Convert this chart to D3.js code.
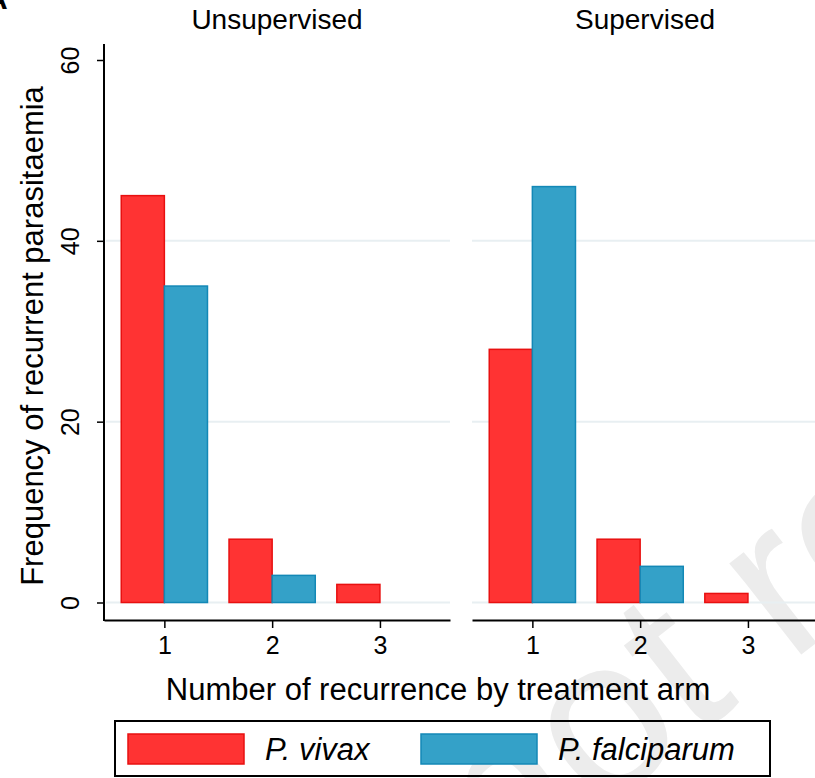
<!DOCTYPE html>
<html>
<head>
<meta charset="utf-8">
<script src="https://cdn.jsdelivr.net/npm/d3@7"></script>
<style>
    body { margin: 0; background: #fff; }
    text { font-family: "Liberation Sans", Arial, sans-serif; fill: #000; }
</style>
</head>
<body>
<div id="chart"></div>
<script>
// data
var categories = [1, 2, 3];
var seriesNames = ['P. vivax', 'P. falciparum'];
var panelNames = ['Unsupervised', 'Supervised'];
var unsupervisedVivax = [45, 7, 2];
var unsupervisedFalciparum = [35, 3, 0];
var supervisedVivax = [28, 7, 1];
var supervisedFalciparum = [46, 4, 0];
var yTicks = [0, 20, 40, 60];
var gridTicks = [0, 20, 40];

var svgWidth = 815;
var svgHeight = 778;

var colors = {
    'P. vivax': { fill: '#ff3333', stroke: '#e81010' },
    'P. falciparum': { fill: '#34a1c8', stroke: '#1388b6' }
};

var svg = d3.select('#chart')
    .append('svg')
    .attr('width', svgWidth)
    .attr('height', svgHeight);

// panel geometry
var panelWidth = 346;
var panelLefts = [104, 472];
var plotTop = 44;
var axisY = 620;

var yScale = d3.scaleLinear()
    .domain([0, 60])
    .range([602.5, 60]);

// faint preprint watermark behind everything
svg.append('text')
    .attr('transform', 'translate(500, 890) rotate(-38)')
    .style('font-size', '220px')
    .style('fill', '#ececec')
    .text('not review');

var panelData = [
    { name: panelNames[0], values: [unsupervisedVivax, unsupervisedFalciparum] },
    { name: panelNames[1], values: [supervisedVivax, supervisedFalciparum] }
];

panelData.forEach(function(p, i) {
    var left = panelLefts[i];
    var xScale = d3.scaleLinear()
        .domain([0.44, 3.65])
        .range([left, left + panelWidth]);

    var g = svg.append('g');

    // gridlines
    g.selectAll('.grid')
        .data(gridTicks)
        .enter()
        .append('line')
        .attr('x1', left + (i === 0 ? 2 : 0))
        .attr('x2', left + panelWidth)
        .attr('y1', d => yScale(d))
        .attr('y2', d => yScale(d))
        .attr('stroke', '#e8eff2')
        .attr('stroke-width', 2);

    // bars: each series offset by 0.4 units around the category
    var barWidth = 0.4;
    var bars = [];
    seriesNames.forEach(function(s, si) {
        categories.forEach(function(c, ci) {
            var v = p.values[si][ci];
            if (v > 0) bars.push({ series: s, cat: c, value: v, offset: si === 0 ? -barWidth : 0 });
        });
    });

    g.selectAll('.bar')
        .data(bars)
        .enter()
        .append('rect')
        .attr('x', d => xScale(d.cat + d.offset))
        .attr('width', d => xScale(d.cat + d.offset + barWidth) - xScale(d.cat + d.offset))
        .attr('y', d => yScale(d.value))
        .attr('height', d => yScale(0) - yScale(d.value))
        .attr('fill', d => colors[d.series].fill)
        .attr('stroke', d => colors[d.series].stroke)
        .attr('stroke-width', 1.5);

    // x axis
    var xAxis = g.append('g')
        .attr('transform', `translate(0, ${axisY})`)
        .call(d3.axisBottom(xScale)
            .tickValues(categories)
            .tickFormat(d3.format('d'))
            .tickSize(8).tickSizeOuter(0).tickPadding(8));
    xAxis.select('.domain').attr('stroke', '#000').attr('stroke-width', 2);
    xAxis.selectAll('.tick line').attr('stroke', '#000').attr('stroke-width', 1.5);
    xAxis.selectAll('.tick text')
        .style('font-size', '25px')
        .style('font-family', '"Liberation Sans", Arial, sans-serif')
        .attr('fill', '#000');

    // panel title
    svg.append('text')
        .attr('x', left + panelWidth / 2)
        .attr('y', 29)
        .attr('text-anchor', 'middle')
        .style('font-size', '28px')
        .text(p.name);

    // y axis only on left panel
    if (i === 0) {
        var yAxis = g.append('g')
            .attr('transform', `translate(${left}, 0)`)
            .call(d3.axisLeft(yScale).tickValues(yTicks).tickSize(7).tickSizeOuter(0));
        yAxis.select('.domain').remove();
        g.append('line')
            .attr('x1', left).attr('x2', left)
            .attr('y1', plotTop).attr('y2', axisY + 1)
            .attr('stroke', '#000').attr('stroke-width', 2);
        yAxis.selectAll('.tick line').attr('stroke', '#000').attr('stroke-width', 1.5);
        yAxis.selectAll('.tick text')
            .attr('x', 0).attr('dy', 0)
            .attr('transform', 'translate(-25, 0) rotate(-90)')
            .attr('text-anchor', 'middle')
            .style('font-size', '25px')
            .style('font-family', '"Liberation Sans", Arial, sans-serif')
            .attr('fill', '#000');
    }
});

// axis titles
svg.append('text')
    .attr('transform', 'translate(43, 336) rotate(-90)')
    .attr('text-anchor', 'middle')
    .style('font-size', '31px')
    .text('Frequency of recurrent parasitaemia');

svg.append('text')
    .attr('x', 438)
    .attr('y', 700)
    .attr('text-anchor', 'middle')
    .style('font-size', '31px')
    .text('Number of recurrence by treatment arm');

// legend
var legend = svg.append('g');
legend.append('rect')
    .attr('x', 115).attr('y', 721)
    .attr('width', 655).attr('height', 55)
    .attr('fill', 'none')
    .attr('stroke', '#000')
    .attr('stroke-width', 2);

var legendX = [128, 421];
seriesNames.forEach(function(s, i) {
    legend.append('rect')
        .attr('x', legendX[i]).attr('y', 734)
        .attr('width', 116).attr('height', 30)
        .attr('fill', colors[s].fill)
        .attr('stroke', colors[s].stroke)
        .attr('stroke-width', 1.5);
    legend.append('text')
        .attr('x', legendX[i] + 137)
        .attr('y', 760)
        .style('font-size', '31px')
        .style('font-style', 'italic')
        .text(s);
});

// panel label, mostly cut off at the corner
svg.append('text')
    .attr('x', -14).attr('y', 9)
    .style('font-size', '30px')
    .style('font-weight', 'bold')
    .text('A');
</script>
</body>
</html>
